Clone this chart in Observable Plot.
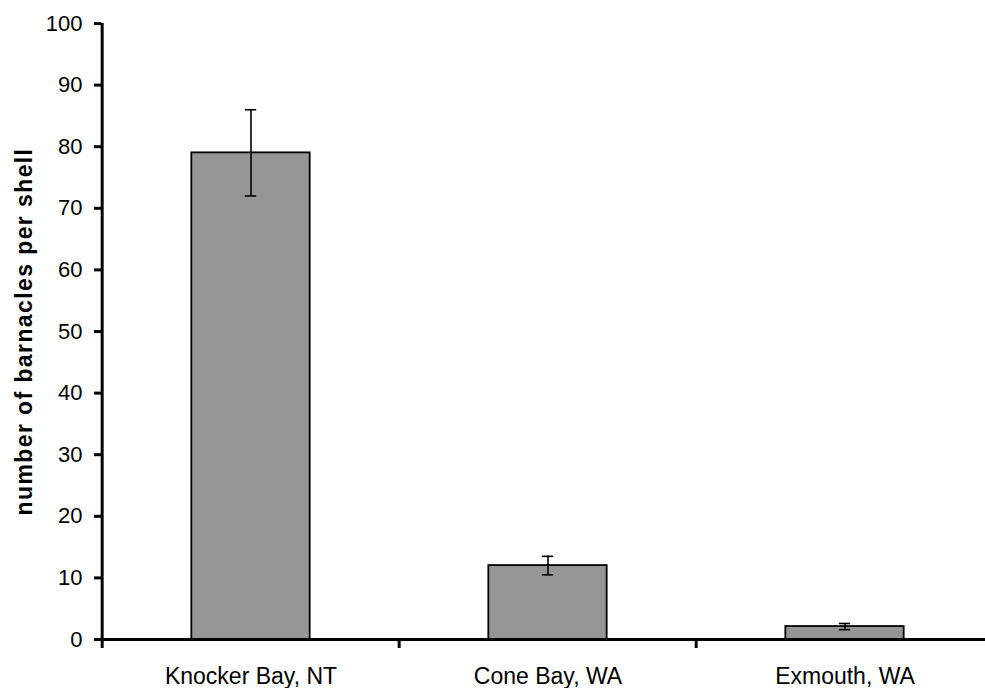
<!DOCTYPE html>
<html>
<head>
<meta charset="utf-8">
<script src="https://cdn.jsdelivr.net/npm/d3@7"></script>
<script src="https://cdn.jsdelivr.net/npm/@observablehq/plot@0.6"></script>
<style>
  html, body { margin: 0; padding: 0; background: #fff; }
  #chart svg { display: block; }
</style>
</head>
<body>
<div id="chart"></div>
<script>
// ---- data ----
const sites = ["Knocker Bay, NT", "Cone Bay, WA", "Exmouth, WA"];
const means = [79, 12, 2.1];
const errLow = [72, 10.5, 1.6];
const errHigh = [86, 13.5, 2.6];
const yTicks = [0, 10, 20, 30, 40, 50, 60, 70, 80, 90, 100];
const yLabel = "number of barnacles per shell";

const rows = sites.map((s, i) => ({site: s, mean: means[i], lo: errLow[i], hi: errHigh[i]}));

// ---- layout ----
const W = 985, H = 688;
const mL = 101, mT = 23, mB = 49, mR = 0;
const xEnd = 994; // category band range extends slightly past the right edge
const step = (xEnd - mL) / sites.length;
const barW = 119, capW = 12;
const font = "'Liberation Sans', Arial, Helvetica, sans-serif";

const chart = Plot.plot({
  width: W,
  height: H,
  marginLeft: mL,
  marginTop: mT,
  marginBottom: mB,
  marginRight: mR,
  style: {fontFamily: font, fontSize: "22px", color: "#000", background: "#fff", overflow: "visible"},
  x: {type: "band", domain: sites, padding: 0, range: [mL, xEnd], axis: null},
  y: {domain: [0, 100], axis: null},
  marks: [
    Plot.barY(rows, {x: "site", y: "mean", fill: "#969696", stroke: "#000", strokeWidth: 1.8,
      insetLeft: (step - barW) / 2, insetRight: (step - barW) / 2}),
    Plot.ruleX(rows, {x: "site", y1: "lo", y2: "hi", stroke: "#000", strokeWidth: 1.6}),
    Plot.tickY(rows, {x: "site", y: "hi", stroke: "#000", strokeWidth: 1.6,
      insetLeft: (step - capW) / 2, insetRight: (step - capW) / 2}),
    Plot.tickY(rows, {x: "site", y: "lo", stroke: "#000", strokeWidth: 1.6,
      insetLeft: (step - capW) / 2, insetRight: (step - capW) / 2}),
    // y axis
    Plot.axisY({ticks: yTicks, tickSize: 7, tickPadding: 12, fontSize: 22, strokeWidth: 3,
      label: null, tickFormat: d => String(d)}),
    Plot.ruleX([sites[0]], {x: d => d, dx: -step / 2, y1: 0, y2: 100, stroke: "#000", strokeWidth: 3}),
    // x axis line
    Plot.ruleY([0], {stroke: "#000", strokeWidth: 3}),
    // x ticks at category boundaries
    Plot.axisX(sites, {tickSize: 9, dx: -step / 2, tickFormat: () => "", strokeWidth: 3, label: null}),
    // x category labels
    Plot.axisX(sites, {tickSize: 0, tickPadding: 28, fontSize: 23, label: null}),
    // y axis title
    Plot.text([yLabel], {text: d => d, frameAnchor: "left", textAnchor: "middle", rotate: -90, dx: -77,
      fontSize: 23, fontWeight: "bold", fill: "#000"})
  ]
});
const svg = d3.select(chart);
svg.selectAll("text").each(function() {
  const t = d3.select(this);
  const s = t.text();
  if (s === yLabel) t.style("letter-spacing", "1.4px");
  else if (yTicks.map(String).includes(s)) t.attr("font-size", 22).style("font-size", "22px");
});
document.getElementById("chart").appendChild(chart);
</script>
</body>
</html>
